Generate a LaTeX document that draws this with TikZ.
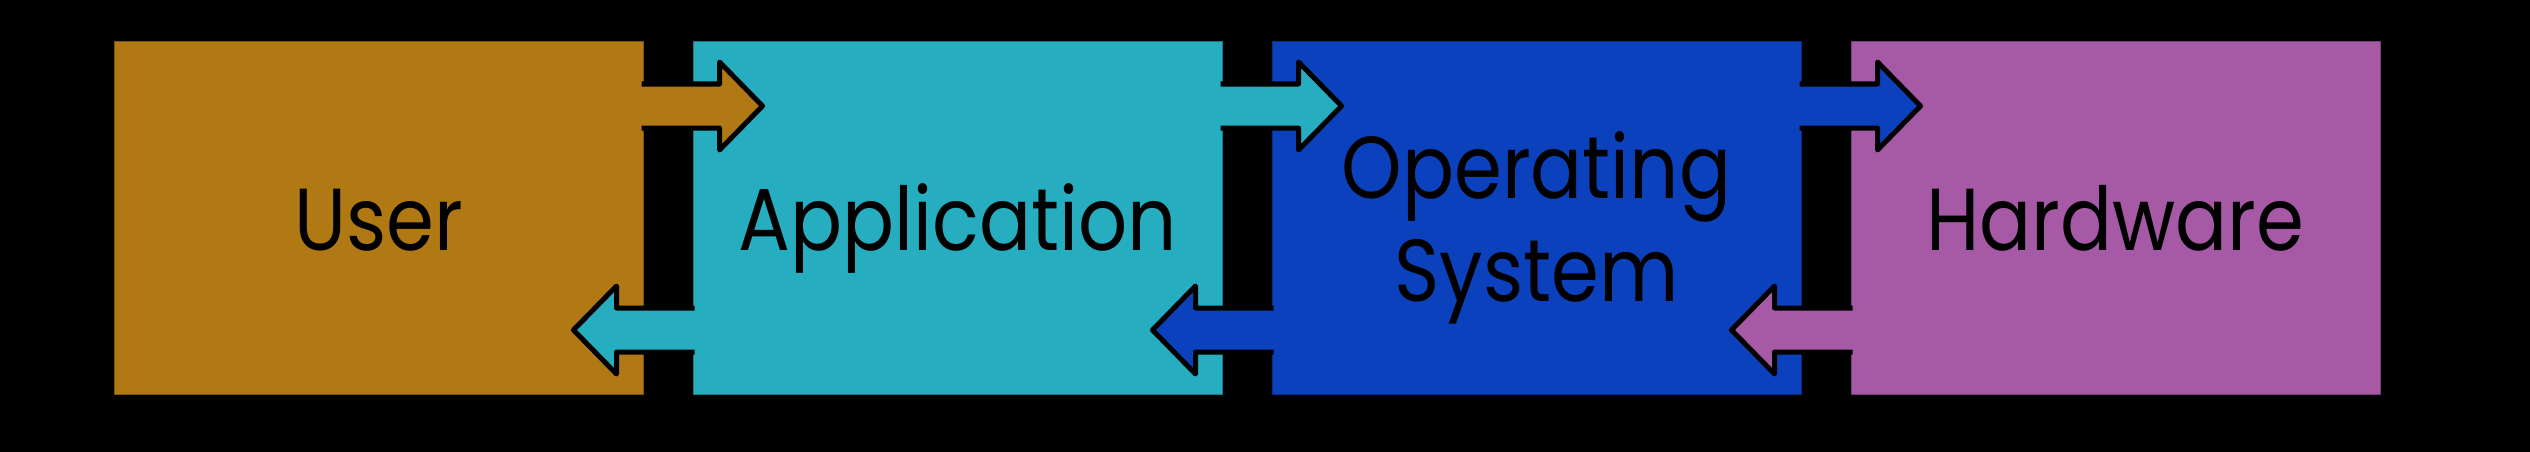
\documentclass[tikz,border=0pt]{standalone}
\usepackage{fontspec}
\setmainfont{Poppins}[FakeStretch=0.875]
\usetikzlibrary{calc}
\definecolor{cuser}{RGB}{176,121,20}
\definecolor{capp}{RGB}{38,173,192}
\definecolor{cos}{RGB}{12,65,189}
\definecolor{chw}{RGB}{166,89,165}
\tikzset{
  layer/.style={rectangle, minimum width=529pt, minimum height=352pt, inner sep=0pt, line width=1pt},
  lbl/.style={anchor=base, inner sep=0pt, font=\fontsize{88}{103}\selectfont, text=black, align=center},
  arrowout/.style={draw=black, line width=5pt, line join=round}
}
% #1 source node, #2 target node, #3 y, #4 colour, #5 source anchor, #6 target anchor, #7 direction (+1 right, -1 left)
\newcommand\arrowpath[7]{%
  ($(#1.#5|-0,#3)+(-2*#7,-22)$) -- ($(#2.#6|-0,#3)+(27*#7,-22)$) -- ($(#2.#6|-0,#3)+(27*#7,-44)$) -- ($(#2.#6|-0,#3)+(70*#7,0)$) -- ($(#2.#6|-0,#3)+(27*#7,44)$) -- ($(#2.#6|-0,#3)+(27*#7,22)$) -- ($(#1.#5|-0,#3)+(-2*#7,22)$)}
\newcommand\fwdarr[4]{%
  \fill[#4] \arrowpath{#1}{#2}{#3}{#4}{east}{west}{1} -- cycle;
  \draw[arrowout] \arrowpath{#1}{#2}{#3}{#4}{east}{west}{1};}
\newcommand\backarr[4]{%
  \fill[#4] \arrowpath{#1}{#2}{#3}{#4}{west}{east}{-1} -- cycle;
  \draw[arrowout] \arrowpath{#1}{#2}{#3}{#4}{west}{east}{-1};}
\begin{document}
\begin{tikzpicture}[x=1pt,y=-1pt]
\fill[black] (0,0) rectangle (2530,452);
\useasboundingbox (0,0) rectangle (2530,452);
\node[layer, fill=cuser, draw=cuser!70!black] (user) at (378.5,218) {};
\node[layer, fill=capp, draw=capp!70!black] (app) at (957.5,218) {};
\node[layer, fill=cos, draw=cos!70!black] (os) at (1536.5,218) {};
\node[layer, fill=chw, draw=chw!70!black] (hw) at (2115.5,218) {};
\fwdarr{user}{app}{106}{cuser}
\fwdarr{app}{os}{106}{capp}
\fwdarr{os}{hw}{106}{cos}
\backarr{app}{user}{330}{capp}
\backarr{os}{app}{330}{cos}
\backarr{hw}{os}{330}{chw}
\node[lbl] (tuser) at ($(user.center)+(0,32)$) {User};
\node[lbl] (tapp) at ($(app.center)+(0,32)$) {Application};
\node[lbl] (tos1) at ($(os.center)+(0,-20)$) {Operating};
\node[lbl] (tos2) at ($(os.center)+(0,83)$) {System};
\node[lbl] (thw) at ($(hw.center)+(0,32)$) {Hardware};
\end{tikzpicture}
\end{document}
